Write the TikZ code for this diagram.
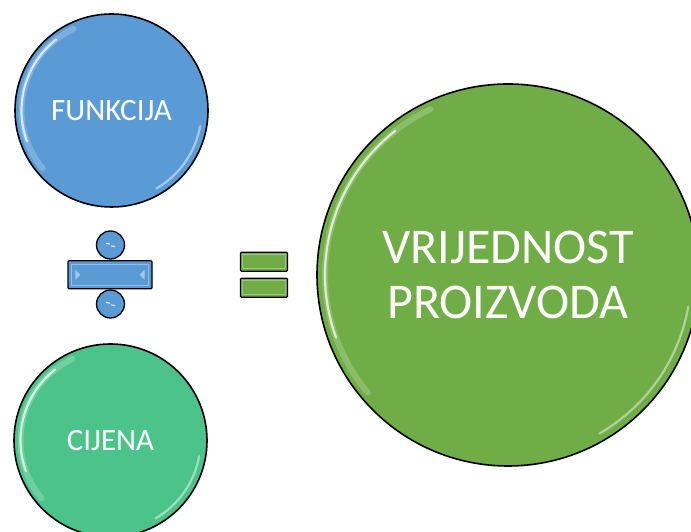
\documentclass[tikz,border=0pt]{standalone}
\usepackage{fontspec}
\setmainfont{Carlito}
\usetikzlibrary{calc}
\definecolor{fblue}{HTML}{5B9BD5}
\definecolor{cgreen}{HTML}{4CC38A}
\definecolor{vgreen}{HTML}{70AD47}
\tikzset{
  ball/.style={circle, draw=black, line width=1.6pt, text=white, inner sep=0pt, align=center},
  gloss/.style={white, line width=2.2pt, line cap=round, opacity=.7},
  softgloss/.style={white, line width=6pt, line cap=round, opacity=.2},
  bar/.style={draw=black, line width=1.3pt, rounded corners=1pt, inner sep=0pt},
  dot/.style={circle, draw=black, line width=1.3pt, fill=fblue, inner sep=0pt, minimum size=28pt},
  bevel/.style={white, opacity=.45},
}
\begin{document}
\begin{tikzpicture}[x=1pt,y=1pt]
\useasboundingbox (0,0) rectangle (691,532);
% circles
\node[ball, fill=fblue, minimum size=193pt, font=\fontsize{31}{36}\selectfont] (funk) at (111.5,421.5) {FUNKCIJA};
\node[ball, fill=cgreen, minimum size=193pt, font=\fontsize{31}{36}\selectfont] (cij) at (110.5,91.5) {CIJENA};
\node[ball, fill=vgreen, minimum size=382pt, font=\fontsize{50}{55}\selectfont] (vrij) at (508,257) {VRIJEDNOST\\PROIZVODA};
% gloss highlights
\foreach \n/\r in {funk/90, cij/90, vrij/183}{
  \draw[softgloss] (\n.center) ++(115:\r pt) arc[start angle=115, end angle=220, radius=\r pt];
  \draw[gloss] (\n.center) ++(128:\r pt) arc[start angle=128, end angle=200, radius=\r pt];
  \draw[gloss, opacity=.45] (\n.center) ++(-10:\r pt) arc[start angle=-10, end angle=-60, radius=\r pt];
}
% divide sign
\node[bar, fill=fblue, minimum width=84pt, minimum height=28pt] (divbar) at (110,257.3) {};
\node[dot] (dtop) at (110.5,287) {};
\node[dot] (dbot) at (110.5,228) {};
\fill[bevel] ($(divbar.west)+(8,5)$) -- ++(5,-5) -- ++(-5,-5) -- cycle;
\fill[bevel] ($(divbar.east)+(-8,5)$) -- ++(-5,-5) -- ++(5,-5) -- cycle;
\draw[white, opacity=.35, line width=0.8pt] ($(divbar.south west)+(4,4)$) rectangle ($(divbar.north east)+(-4,-4)$);
\foreach \d in {dtop, dbot}{
  \draw[white, opacity=.8, line width=1.2pt, line cap=round] ($(\d.center)+(-4,1.5)$) -- ($(\d.center)+(-1,1)$);
  \draw[white, opacity=.8, line width=1.2pt, line cap=round] ($(\d.center)+(1,-1)$) -- ($(\d.center)+(4,-1.5)$);
}
% equals sign
\node[bar, fill=vgreen, minimum width=47pt, minimum height=19pt] (eqtop) at (264,270.3) {};
\node[bar, fill=vgreen, minimum width=47pt, minimum height=19pt] (eqbot) at (264,244.3) {};
\foreach \e in {eqtop, eqbot}{
  \draw[white, opacity=.3, line width=0.8pt] ($(\e.south west)+(3,3)$) rectangle ($(\e.north east)+(-3,-3)$);
}
\end{tikzpicture}
\end{document}
